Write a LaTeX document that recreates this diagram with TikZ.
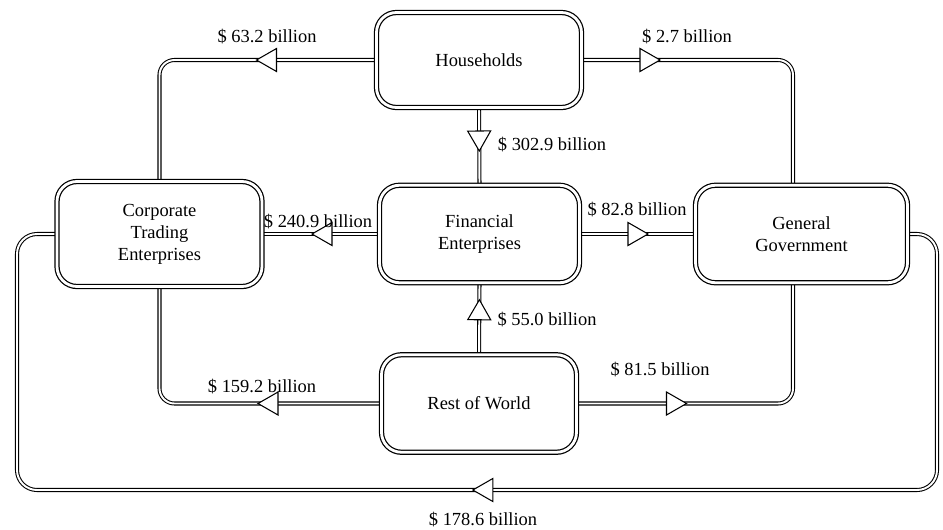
\documentclass[tikz,border=0pt]{standalone}
\usepackage{fontspec}
\setmainfont{Liberation Serif}
\usetikzlibrary{decorations.markings,backgrounds}

\tikzset{
    box/.style={draw, fill=white, rounded corners=0.4cm, double, double distance=1.6pt,
        line width=0.7pt, minimum width=#1, minimum height=1.95cm, align=center,
        outer sep=0pt, font=\fontsize{10.5}{12.5}\selectfont},
    flow/.style={draw, double, double distance=1.1pt, line width=0.6pt, rounded corners=0.3cm},
    tri/.style={postaction={decorate}, decoration={markings, mark=at position #1 with
        {\draw[fill=white, line width=0.6pt, sharp corners] (0.2, 0) -- (-0.2, 0.23) -- (-0.2, -0.23) -- cycle;}}},
    amount/.style={font=\fontsize{10.5}{12}\selectfont}
}

\begin{document}
\begin{tikzpicture}
    \useasboundingbox (0, 0) rectangle (18.86, 10.58);

    % sectors
    \node[box=4.1cm, minimum height=1.9cm] (hh) at (9.58, 9.38) {Households};
    \node[box=4.1cm, minimum height=2.1cm] (corp) at (3.19, 5.9) {Corporate\\Trading\\Enterprises};
    \node[box=4.0cm] (fin) at (9.59, 5.9) {Financial\\Enterprises};
    \node[box=4.24cm] (gg) at (16.03, 5.9) {General\\Government};
    \node[box=3.9cm] (row) at (9.58, 2.51) {Rest of World};

    \coordinate (se) at (18.74, 0.78);
    \coordinate (sw) at (0.34, 0.78);

    % flows
    \begin{scope}[on background layer]
        \draw[flow, tri=2.2cm] (hh.west) -| (corp.north);
        \draw[flow, tri=1.37cm] (hh.east) -| ([xshift=-0.17cm]gg.north);
        \draw[flow, tri=0.67cm] (hh.south) -- (fin.north);
        \draw[flow, tri=1.15cm] (fin.west) -- (corp.east);
        \draw[flow, tri=1.17cm] (fin.east) -- (gg.west);
        \draw[flow, tri=0.9cm] (row.north) -- (fin.south);
        \draw[flow, tri=2.27cm] (row.west) -| (corp.south);
        \draw[flow, tri=2.0cm] (row.east) -| ([xshift=-0.17cm]gg.south);
        \draw[flow, rounded corners=0.4cm, tri=14.45cm] (gg.east) -| (se) -- (sw) |- (corp.west);
    \end{scope}

    % amounts
    \node[amount] (a1) at (5.34, 9.84) {\$ 63.2 billion};
    \node[amount] (a2) at (13.74, 9.84) {\$ 2.7 billion};
    \node[amount] (a3) at (11.04, 7.68) {\$ 302.9 billion};
    \node[amount] (a4) at (6.36, 6.14) {\$ 240.9 billion};
    \node[amount] (a5) at (12.74, 6.38) {\$ 82.8 billion};
    \node[amount] (a6) at (10.94, 4.18) {\$ 55.0 billion};
    \node[amount] (a7) at (5.24, 2.84) {\$ 159.2 billion};
    \node[amount] (a8) at (13.2, 3.18) {\$ 81.5 billion};
    \node[amount] (a9) at (9.66, 0.18) {\$ 178.6 billion};
\end{tikzpicture}
\end{document}
